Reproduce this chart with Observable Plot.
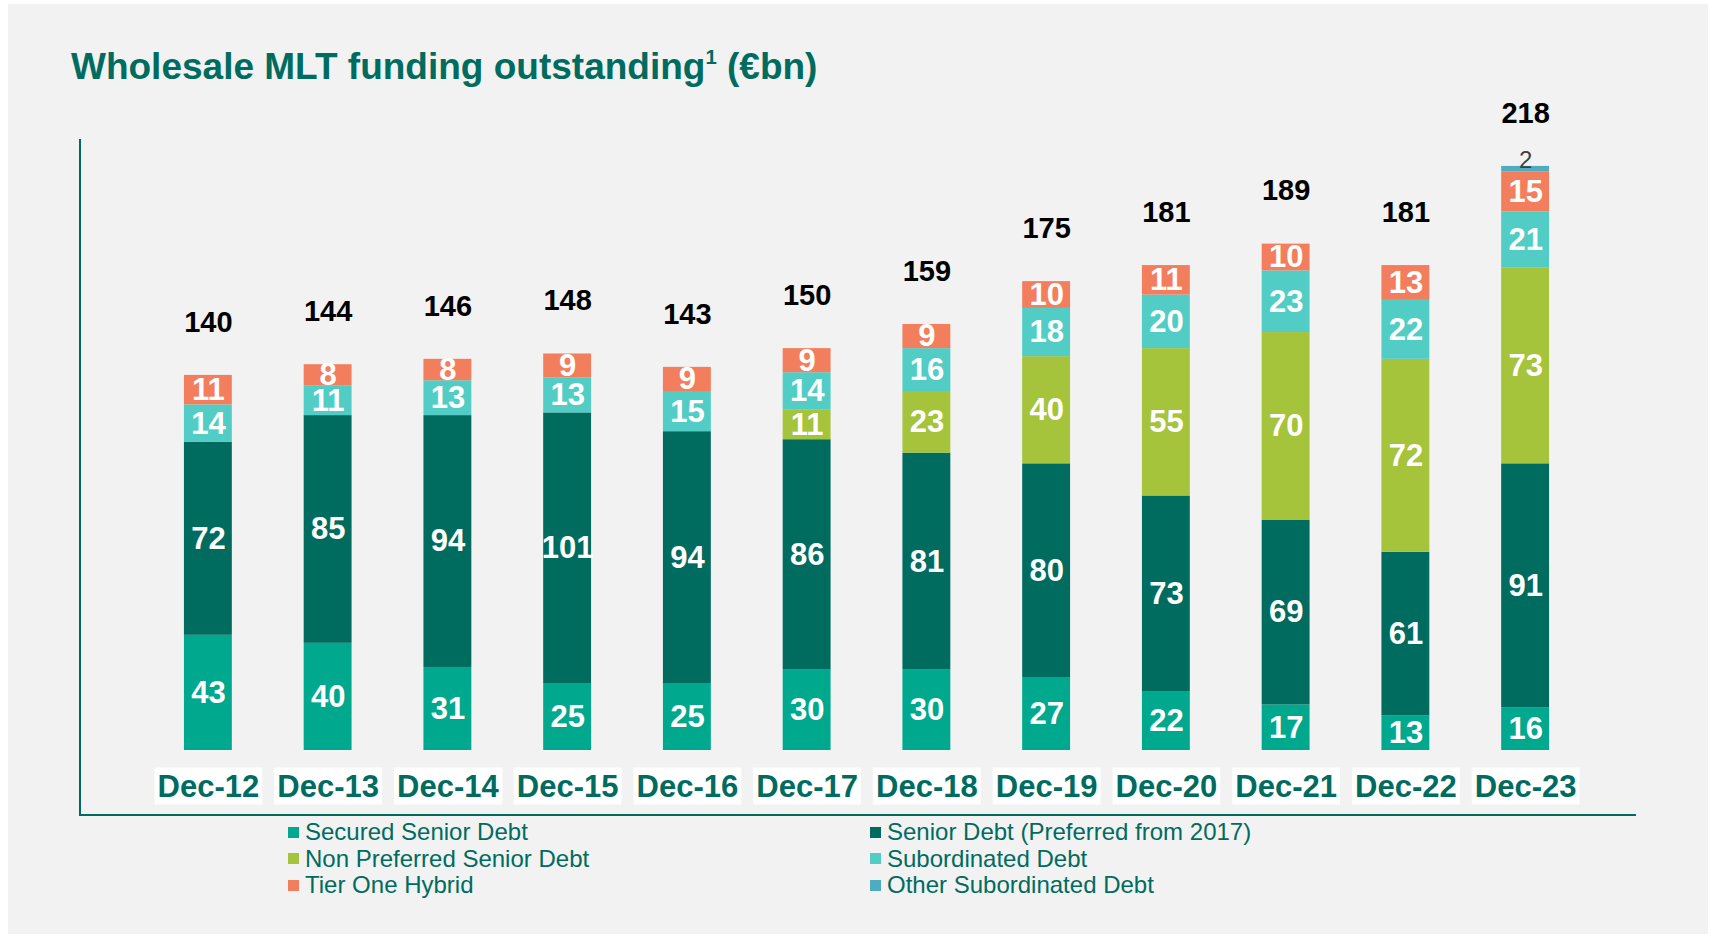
<!DOCTYPE html>
<html>
<head>
<meta charset="utf-8">
<script src="https://cdn.jsdelivr.net/npm/d3@7"></script>
<script src="https://cdn.jsdelivr.net/npm/@observablehq/plot@0.6"></script>
<style>
  html, body { margin: 0; padding: 0; background: #ffffff; }
  body { position: relative; width: 1712px; height: 936px; overflow: hidden; font-family: "Liberation Sans", Arial, sans-serif; }
  #panel { position: absolute; left: 8px; top: 4px; width: 1700px; height: 930px; background: #f2f2f2; }
  #title { position: absolute; left: 71px; top: 46px; font-family: "Liberation Sans", Arial, sans-serif; font-weight: bold; font-size: 37px; color: #006b5f; white-space: nowrap; }
  #title sup { font-size: 0.55em; vertical-align: 0.75em; line-height: 0; }
  #axes { position: absolute; left: 79px; top: 139px; width: 1557px; height: 677px; box-sizing: border-box; border-left: 2px solid #006b5f; border-bottom: 2px solid #006b5f; }
  #chart { position: absolute; left: 0px; top: 100px; }
  #legend { position: absolute; left: 0; top: 818px; width: 1712px; height: 90px; }
  .item { position: absolute; display: flex; align-items: center; font-family: "Liberation Sans", Arial, sans-serif; font-size: 24px; color: #006b5f; white-space: nowrap; }
  .sw { width: 11px; height: 11px; margin-right: 6px; }
</style>
</head>
<body>
<div id="panel"></div>
<div id="title">Wholesale MLT funding outstanding<sup>1</sup> (€bn)</div>
<div id="axes"></div>
<div id="chart"></div>
<div id="legend"></div>
<script>
const categories = ["Dec-12","Dec-13","Dec-14","Dec-15","Dec-16","Dec-17","Dec-18","Dec-19","Dec-20","Dec-21","Dec-22","Dec-23"];
const securedSeniorDebt   = [43, 40, 31, 25, 25, 30, 30, 27, 22, 17, 13, 16];
const seniorDebt          = [72, 85, 94, 101, 94, 86, 81, 80, 73, 69, 61, 91];
const nonPreferredSenior  = [0, 0, 0, 0, 0, 11, 23, 40, 55, 70, 72, 73];
const subordinatedDebt    = [14, 11, 13, 13, 15, 14, 16, 18, 20, 23, 22, 21];
const tierOneHybrid       = [11, 8, 8, 9, 9, 9, 9, 10, 11, 10, 13, 15];
const otherSubordinated   = [0, 0, 0, 0, 0, 0, 0, 0, 0, 0, 0, 2];
const totals              = [140, 144, 146, 148, 143, 150, 159, 175, 181, 189, 181, 218];

const seriesNames = ["Secured Senior Debt","Senior Debt (Preferred from 2017)","Non Preferred Senior Debt","Subordinated Debt","Tier One Hybrid","Other Subordinated Debt"];
const seriesValues = [securedSeniorDebt, seniorDebt, nonPreferredSenior, subordinatedDebt, tierOneHybrid, otherSubordinated];
const seriesColors = ["#00a88e","#006b5f","#a5c33b","#52cdc5","#f27e5d","#4dadbf"];

const data = [];
categories.forEach((c, i) => {
  seriesNames.forEach((s, j) => {
    const v = seriesValues[j][i];
    if (v > 0) data.push({cat: c, series: s, value: v});
  });
});
const totalData = categories.map((c, i) => ({cat: c, total: totals[i]}));
const OTHER = "Other Subordinated Debt";
const sans = '"Liberation Sans", Arial, sans-serif';

const chart = Plot.plot({
  width: 1712,
  height: 725,
  marginLeft: 148,
  marginRight: 127,
  marginTop: 7,
  marginBottom: 75,
  style: {background: "transparent", overflow: "visible"},
  x: {domain: categories, paddingInner: 0.6, paddingOuter: 0.3, round: false, label: null},
  y: {domain: [0, 240], axis: null},
  color: {domain: seriesNames, range: seriesColors},
  marks: [
    Plot.barY(data, {x: "cat", y: "value", fill: "series", order: seriesNames}),
    Plot.text(data, Plot.stackY({
      x: "cat", y: "value", z: "series", order: seriesNames,
      text: d => d.series === OTHER ? "" : String(d.value),
      fill: "white", fontSize: 31, fontWeight: "bold", fontFamily: sans, lineAnchor: "middle",
      ariaLabel: "bar-values"
    })),
    Plot.text(data, Plot.stackY2({
      x: "cat", y: "value", z: "series", order: seriesNames,
      text: d => d.series === OTHER ? String(d.value) : "",
      fill: "#404040", fontSize: 24, fontFamily: sans, lineAnchor: "middle", dy: -6
    })),
    Plot.text(totalData, {
      x: "cat", y: "total", text: d => String(d.total),
      fill: "#000000", fontSize: 29, fontWeight: "bold", fontFamily: sans,
      lineAnchor: "middle", dy: -53
    }),
    Plot.axisX({
      tickSize: 0, tickPadding: 24, fontSize: 31, fontWeight: "bold",
      fontFamily: sans, fill: "#006b5f", label: null
    })
  ]
});
document.getElementById("chart").appendChild(chart);

// narrow (condensed) look for the in-bar value labels
chart.querySelectorAll('g[aria-label="bar-values"] text').forEach(t => {
  const tr = t.getAttribute("transform") || "";
  const x = +(t.getAttribute("x") || 0), y = +(t.getAttribute("y") || 0);
  t.removeAttribute("x"); t.removeAttribute("y");
  t.setAttribute("transform", `${tr} translate(${x},${y}) scale(0.77,1)`);
});

// white label boxes behind the category tick labels
chart.querySelectorAll('[aria-label="x-axis tick label"] text').forEach(t => {
  const b = t.getBBox();
  const r = document.createElementNS("http://www.w3.org/2000/svg", "rect");
  r.setAttribute("x", b.x - 3);
  r.setAttribute("y", b.y - 1);
  r.setAttribute("width", b.width + 6);
  r.setAttribute("height", b.height + 2);
  r.setAttribute("fill", "#ffffff");
  const tr = t.getAttribute("transform");
  if (tr) r.setAttribute("transform", tr);
  t.parentNode.insertBefore(r, t);
});

// legend
const legend = document.getElementById("legend");
const colX = [288, 870];
const rowY = [0, 26.5, 53];
seriesNames.forEach((name, k) => {
  const item = document.createElement("div");
  item.className = "item";
  item.style.left = colX[k % 2] + "px";
  item.style.top = rowY[Math.floor(k / 2)] + "px";
  const sw = document.createElement("span");
  sw.className = "sw";
  sw.style.background = seriesColors[k];
  item.appendChild(sw);
  item.appendChild(document.createTextNode(name));
  legend.appendChild(item);
});
</script>
</body>
</html>
